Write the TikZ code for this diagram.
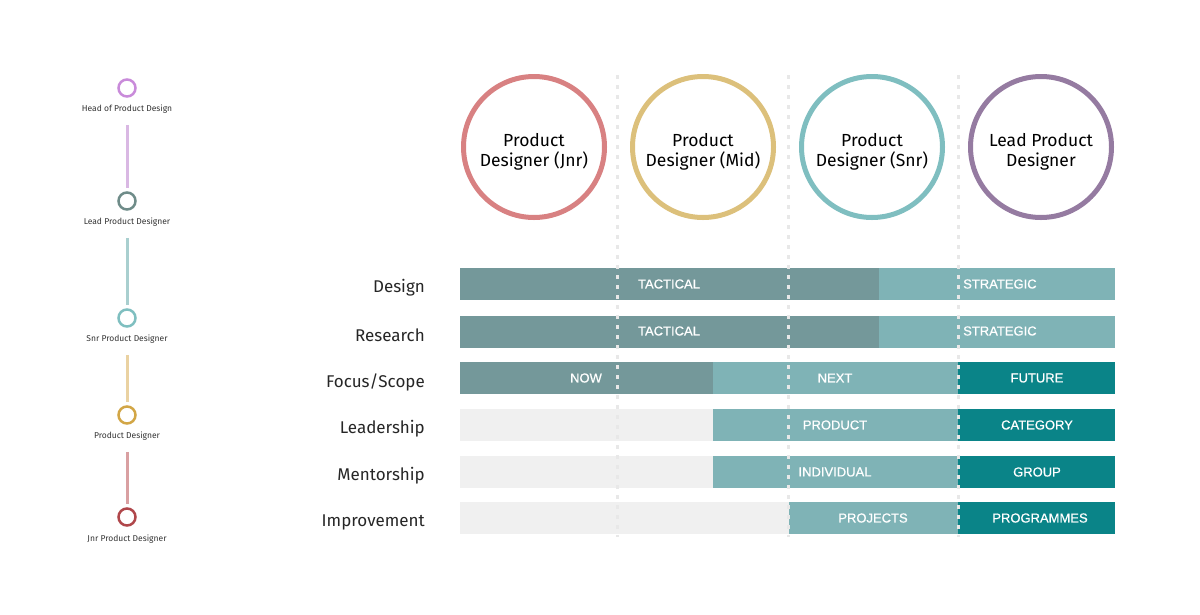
\documentclass[tikz,border=0pt]{standalone}
\usepackage{fontspec}
\setmainfont{Fira Sans}
\newfontfamily\barfont[FakeBold=0.6]{Liberation Sans}
\definecolor{headcol}{HTML}{C98BDA}
\definecolor{headline}{HTML}{D9B8E3}
\definecolor{leadcol}{HTML}{6F8C89}
\definecolor{snrline}{HTML}{A9CFCF}
\definecolor{snrcol}{HTML}{7FBFC0}
\definecolor{midline}{HTML}{EAD2A2}
\definecolor{midcol}{HTML}{D2A646}
\definecolor{jnrline}{HTML}{D9A0A2}
\definecolor{jnrcol}{HTML}{B0474B}
\definecolor{jnrring}{HTML}{D88182}
\definecolor{midring}{HTML}{DCC07B}
\definecolor{snrring}{HTML}{7FBEC0}
\definecolor{leadring}{HTML}{957BA1}
\definecolor{darkbar}{HTML}{74989A}
\definecolor{lightbar}{HTML}{7FB3B6}
\definecolor{deepbar}{HTML}{0A8488}
\definecolor{emptybar}{HTML}{F0F0F0}
\tikzset{
  ring/.style={circle, draw, line width=5pt, minimum size=141pt, inner sep=0pt},
  ringtext/.style={align=center, yshift=-5pt, inner sep=0pt, font=\fontsize{17.5}{20}\selectfont},
  dot/.style={circle, draw, line width=2.5pt, minimum size=17pt, inner sep=0pt},
  rung/.style={line width=3pt, shorten <=8pt, shorten >=3pt},
  barlabel/.style={text=white, font=\barfont\fontsize{13}{13}\selectfont},
  rowlabel/.style={anchor=east, inner sep=0pt, text=black!85, font=\fontsize{17}{17}\selectfont},
  steplabel/.style={text=black!80, font=\fontsize{8.5}{9}\selectfont},
  divider/.style={draw=gray!18, line width=3pt, dash pattern=on 4pt off 6pt}
}
\begin{document}
\begin{tikzpicture}[x=1pt, y=-1pt]
    \useasboundingbox (0,0) rectangle (1200,614);
    \node[dot, draw=headcol] (head) at (127,88) {};
    \node[steplabel] (headlab) at (127,109) {Head of Product Design};
    \node[dot, draw=leadcol] (lead) at (127,201) {};
    \node[steplabel] (leadlab) at (127,222) {Lead Product Designer};
    \node[dot, draw=snrcol] (snr) at (127,318) {};
    \node[steplabel] (snrlab) at (127,339) {Snr Product Designer};
    \node[dot, draw=midcol] (mid) at (127,415) {};
    \node[steplabel] (midlab) at (127,436) {Product Designer};
    \node[dot, draw=jnrcol] (jnr) at (127,517) {};
    \node[steplabel] (jnrlab) at (127,539) {Jnr Product Designer};
    \draw[rung, headline] (headlab.south) -- (lead.north);
    \draw[rung, snrline] (leadlab.south) -- (snr.north);
    \draw[rung, midline] (snrlab.south) -- (mid.north);
    \draw[rung, jnrline] (midlab.south) -- (jnr.north);

    \node[ring, draw=jnrring, label={[ringtext]center:Product\\Designer (Jnr)}] (jnrring) at (534,147) {};
    \node[ring, draw=midring, label={[ringtext]center:Product\\Designer (Mid)}] (midring) at (703,147) {};
    \node[ring, draw=snrring, label={[ringtext]center:Product\\Designer (Snr)}] (snrring) at (872,147) {};
    \node[ring, draw=leadring, label={[ringtext]center:Lead Product\\Designer}] (leadring) at (1041,147) {};

    \fill[darkbar] (460,268) rectangle (879,300);
    \fill[lightbar] (879,268) rectangle (1115,300);
    \fill[darkbar] (460,316) rectangle (879,348);
    \fill[lightbar] (879,316) rectangle (1115,348);
    \fill[darkbar] (460,362) rectangle (713,394);
    \fill[lightbar] (713,362) rectangle (958,394);
    \fill[deepbar] (958,362) rectangle (1115,394);
    \fill[emptybar] (460,409) rectangle (713,441);
    \fill[lightbar] (713,409) rectangle (958,441);
    \fill[deepbar] (958,409) rectangle (1115,441);
    \fill[emptybar] (460,456) rectangle (713,488);
    \fill[lightbar] (713,456) rectangle (958,488);
    \fill[deepbar] (958,456) rectangle (1115,488);
    \fill[emptybar] (460,502) rectangle (789,534);
    \fill[lightbar] (789,502) rectangle (958,534);
    \fill[deepbar] (958,502) rectangle (1115,534);

    \draw[divider] (617,75) -- (617,537);
    \draw[divider] (788,75) -- (788,537);
    \draw[divider] (958,75) -- (958,537);

    \node[rowlabel] (design) at (425,288) {Design};
    \node[rowlabel] (research) at (425,335) {Research};
    \node[rowlabel] (focus) at (425,382) {Focus/Scope};
    \node[rowlabel] (leadership) at (425,429) {Leadership};
    \node[rowlabel] (mentorship) at (425,476) {Mentorship};
    \node[rowlabel] (improvement) at (425,522) {Improvement};

    \node[barlabel] (tact1) at (669,284) {TACTICAL};
    \node[barlabel, anchor=west, inner sep=0pt] (strat1) at (963,284) {STRATEGIC};
    \node[barlabel] (tact2) at (669,331) {TACTICAL};
    \node[barlabel, anchor=west, inner sep=0pt] (strat2) at (963,331) {STRATEGIC};
    \node[barlabel] (now) at (586,378) {NOW};
    \node[barlabel] (next) at (835,378) {NEXT};
    \node[barlabel] (future) at (1037,378) {FUTURE};
    \node[barlabel] (product) at (835,425) {PRODUCT};
    \node[barlabel] (category) at (1037,425) {CATEGORY};
    \node[barlabel] (individual) at (835,472) {INDIVIDUAL};
    \node[barlabel] (group) at (1037,472) {GROUP};
    \node[barlabel] (projects) at (873,518) {PROJECTS};
    \node[barlabel] (programmes) at (1040,518) {PROGRAMMES};
\end{tikzpicture}
\end{document}
